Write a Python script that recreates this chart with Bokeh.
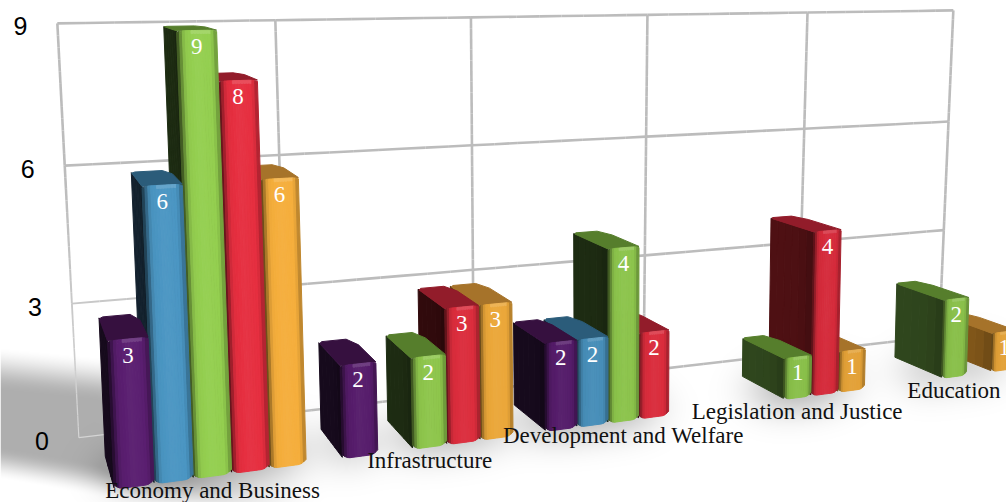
import numpy as np
from bokeh.plotting import figure
from bokeh.embed import file_html
from bokeh.resources import INLINE
from bokeh.core.properties import value

categories = ["Economy and Business", "Infrastructure", "Development and Welfare", "Legislation and Justice", "Education"]
tick_values = [0, 3, 6, 9]
tick_labels = ["0", "3", "6", "9"]
series_purple = [3, 2, 2, 0, 0]
series_blue = [6, 0, 2, 0, 0]
series_green = [9, 2, 4, 1, 2]
series_red = [8, 3, 2, 4, 0]
series_orange = [6, 3, 0, 1, 1]
all_series = [series_purple, series_blue, series_green, series_red, series_orange]

W, H = 1006, 502
front_cols = ["#5a1e70", "#4b96c3", "#94cf50", "#e62f40", "#f5ae3c"]
top_cols = ["#36103f", "#2b5c7a", "#567e2c", "#921c2a", "#a6732a"]
side_cols = ["#160a1c", "#14222e", "#1d2b12", "#300a0c", "#503610"]
cat_side = [1.0, 1.0, 1.0, 1.6, 1.6]
cat_front = [1.0, .96, .95, .93, .93]

calib = [
    (0, 0, 0, 112, 487), (5/6, 0, 0, 305, 464), (2/6, 9, 0, 179, 29), (3/6, 9, 0, 216, 29),
    (3/6, 8, 0, 217, 80), (4/6, 8, 0, 256, 80), (5/6, 6, 0, 297, 178),
    (1, 2, 0, 342, 365), (1, 0, 0, 344, 457), (1+1/6, 2, 0, 375, 362), (1+1/6, 0, 0, 376, 453),
    (1+4/6, 3, 0, 478, 305), (1+5/6, 3, 0, 511, 302), (1+5/6, 0, 0, 511, 438),
    (2, 0, 0, 547, 430), (2, 2, 0, 546, 343), (2+4/6, 0, 0, 667, 417), (2+4/6, 2, 0, 667, 330),
    (3+2/6, 0, 0, 784, 398), (3+2/6, 1, 0, 784, 358), (3+4/6, 4, 0, 840, 230),
    (3+5/6, 0, 0, 863, 391), (3+5/6, 1, 0, 863, 348),
    (4+2/6, 0, 0, 944, 377), (4+2/6, 2, 0, 944, 298), (4.5, 2, 0, 967, 295), (4.5, 0, 0, 965, 375),
    (0, 0, 1, 106, 458), (0, 3, 1, 99, 317), (1/6, 3, 1, 134, 315),
    (1, 0, 1, 320, 428), (1, 2, 1, 317, 342), (2, 0, 1, 513, 398), (2, 2, 1, 512, 323),
    (3+2/6, 0, 1, 741, 377), (3+2/6, 1, 1, 741, 338), (3.5, 4, 1, 770, 218),
    (4+2/6, 2, 1, 895, 283), (4+2/6, 0, 1, 893, 358),
]
wall_calib = [
    (0, 0, 78, 437), (0, 3, 72, 303), (0, 6, 64, 165), (0, 9, 56, 24),
    (1, 9, 275, 20), (2, 9, 470, 17), (3, 9, 647, 15), (4, 9, 807, 13), (5, 9, 953, 10),
    (3, 6, 646, 135), (4, 6, 804, 127), (5, 6, 948, 120),
    (2, 3, 473, 268), (3, 3, 645, 255), (5, 3, 943, 229), (5, 0, 938, 338),
]


def dlt3(rows):
    A = []
    for u, v, z, x, y in rows:
        x, y = x / 1000, y / 1000
        A.append([u, v/9, z, 1, 0, 0, 0, 0, -x*u, -x*v/9, -x*z, -x])
        A.append([0, 0, 0, 0, u, v/9, z, 1, -y*u, -y*v/9, -y*z, -y])
    return np.linalg.svd(np.array(A, float))[2][-1].reshape(3, 4)


def dlt2(rows):
    A = []
    for u, v, x, y in rows:
        x, y = x / 1000, y / 1000
        A.append([u, v/9, 1, 0, 0, 0, -x*u, -x*v/9, -x])
        A.append([0, 0, 0, u, v/9, 1, -y*u, -y*v/9, -y])
    return np.linalg.svd(np.array(A, float))[2][-1].reshape(3, 3)


P = dlt3(calib)
HW = dlt2(wall_calib)


def proj(u, v, z):
    q = P @ np.array([u, v/9, z, 1.0])
    return q[0]/q[2]*1000, q[1]/q[2]*1000


def wall(u, v):
    q = HW @ np.array([u, v/9, 1.0])
    return q[0]/q[2]*1000, q[1]/q[2]*1000


def shade(col, f):
    c = np.array([int(col[i:i+2], 16) for i in (1, 3, 5)], float)
    c = c * f if f <= 1 else c + (255 - c) * (f - 1)
    c = np.clip(c, 0, 255).astype(int)
    return "#%02x%02x%02x" % tuple(c)


def dark(col, f):
    c = np.array([int(col[i:i+2], 16) for i in (1, 3, 5)], float) * f
    c = np.clip(c, 0, 255).astype(int)
    return "#%02x%02x%02x" % tuple(c)


def sstep(t):
    t = np.clip(t, 0, 1)
    return t*t*(3-2*t)


p = figure(width=W, height=H, x_range=(0, W), y_range=(0, H), output_backend="svg",
           toolbar_location=None, min_border=0, outline_line_color=None)
p.axis.visible = False
p.grid.visible = False
p.background_fill_color = "white"
p.border_fill_color = "white"

# floor shadow
yy, xx = np.mgrid[0:H, 0:W].astype(float)
top_edge = 368 + 0.10*xx
bot_edge = 450 + 0.17*xx
alpha = 0.32*sstep((yy-top_edge+24)/46)*(1-sstep((yy-bot_edge+4)/34))*(1-sstep((xx-90)/240))
for c in range(5):
    for s in range(5):
        if all_series[s][c]:
            bx, by = proj(c+(s+.5)/6, 0, 0.55)
            alpha += 0.13*np.exp(-((xx-bx)/34)**2)*np.exp(-((yy-by-4)/28)**2)
alpha = np.clip(alpha, 0, 0.38)
img = np.zeros((H, W), dtype=np.uint32)
view = img.view(dtype=np.uint8).reshape((H, W, 4))
view[..., 3] = (alpha*255).astype(np.uint8)
p.image_rgba(image=[img[::-1]], x=0, y=0, dw=W, dh=H)

# wall gridlines, thinning towards the near bottom-left corner
gx, gy, gw, gc = [], [], [], []
cx0, cy0 = wall(0, 0)


def add_line(pts):
    for (a, b), (c2, d) in zip(pts[:-1], pts[1:]):
        dist = np.hypot((a+c2)/2-cx0, (b+d)/2-cy0)
        t = min(1, dist/260)
        gx.append([a, c2]); gy.append([H-b, H-d])
        gw.append(1.1+1.5*t)
        gc.append(dark("#d6d6d6", 1-0.12*t))


for v in tick_values:
    add_line([wall(u, v) for u in np.linspace(0, 5, 41)])
for c in range(6):
    add_line([wall(c, v) for v in np.linspace(0, 9, 37)])
p.multi_line(gx, gy, line_color=gc, line_width=gw)

xs, ys, cols = [], [], []


def add(poly, col):
    xs.append([a for a, _ in poly])
    ys.append([H-b for _, b in poly])
    cols.append(col)


prof_u = [0, .08, .2, .5, .86, .95, 1]
prof_f = [.32, .62, .97, 1.03, 1.0, .85, .62]
for c in range(4, -1, -1):
    for s in range(4, -1, -1):
        val = all_series[s][c]
        if not val:
            continue
        u0, u1 = c + s/6, c + (s+1)/6
        w = u1-u0
        fc = dark(front_cols[s], cat_front[c])
        n = 6
        zs = np.linspace(0, .97, n+1)
        for i in range(n):
            zm = (zs[i]+zs[i+1])/2
            f = cat_side[c]*np.interp(zm, [0, .3, 1], [.85, 1.0, 1.03])
            add([proj(u0, 0.03, zs[i]), proj(u0, 0.03, zs[i+1]), proj(u0, val, zs[i+1]), proj(u0, val, zs[i])],
                dark(side_cols[s], f))
        add([proj(u0, val, 0), proj(u1, val, 0), proj(u1, val, .72), proj(u1-.18*w, val, 1), proj(u0+.1*w, val, 1),
             proj(u0, val, .93)], top_cols[s])
        m = 14
        us = np.linspace(0, 1, m+1)
        for i in range(m):
            a, b = us[i], us[i+1]
            lift = lambda t: 0.09*max(0, 1-min(t, 1-t)/.22)**2
            ua, ub = u0+(u1-u0)*a, u0+(u1-u0)*b
            f = float(np.interp((a+b)/2, prof_u, prof_f))
            top = val - 0.06
            add([proj(ua, lift(a), 0), proj(ub, lift(b), 0), proj(ub, top, 0), proj(ua, top, 0)], shade(fc, f))
            add([proj(ua, top, 0), proj(ub, top, 0), proj(ub, val-lift(b)*.3, 0), proj(ua, val-lift(a)*.3, 0)],
                shade(fc, f if f < 1 else 1.15))

p.patches(xs, ys, fill_color=cols, line_color=cols, line_width=1)

lx, ly, lt = [], [], []
for c in range(5):
    for s in range(5):
        val = all_series[s][c]
        if val:
            a, b = proj(c+(s+.5)/6, val, 0)
            lx.append(a); ly.append(H-b-16); lt.append(str(val))
p.text(lx, ly, text=lt, text_color="white", text_font=value("Liberation Serif"), text_font_size="23px",
       text_align="center", text_baseline="middle")

for c, name in enumerate(categories):
    a, b = proj(c+2.5/6, 0, 0)
    p.text([a], [H-b-14], text=[name], text_color="#111111", text_font=value("Liberation Serif"),
           text_font_size="23px", text_align="center", text_baseline="middle")

for v, t in zip(tick_values, tick_labels):
    a, b = wall(0, v)
    p.text([a-37], [H-b-3], text=[t], text_color="black", text_font=value("Liberation Sans"),
           text_font_size="25px", text_align="center", text_baseline="middle")

open("out.html", "w").write(file_html(p, INLINE))
